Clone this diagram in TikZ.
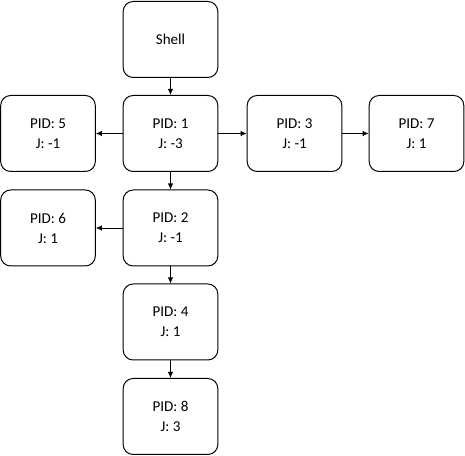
\documentclass[tikz,border=0pt]{standalone}
\usepackage{fontspec}
\setmainfont{Carlito}
\usetikzlibrary{arrows.meta}
\begin{document}
\begin{tikzpicture}[
    x=0.75pt, y=-0.75pt,
    proc/.style={draw, rounded corners=7.5pt, line width=0.75pt,
      minimum width=71pt, minimum height=57pt, align=center,
      font=\fontsize{11.3}{15}\selectfont, inner sep=0pt},
    link/.style={-{Latex[length=4.5pt,width=4pt]}, line width=0.6pt}
  ]
    \useasboundingbox (0,0) rectangle (465,456);
    \node[proc] (shell) at (170.5,39.5) {Shell};
    \node[proc] (p1) at (170.5,133.5) {PID: 1\\J: -3};
    \node[proc] (p5) at (48,133.5) {PID: 5\\J: -1};
    \node[proc] (p3) at (294.5,133.5) {PID: 3\\J: -1};
    \node[proc] (p7) at (416.5,133.5) {PID: 7\\J: 1};
    \node[proc] (p2) at (170.5,228) {PID: 2\\J: -1};
    \node[proc] (p6) at (48,228) {PID: 6\\J: 1};
    \node[proc] (p4) at (170.5,322) {PID: 4\\J: 1};
    \node[proc] (p8) at (170.5,416.5) {PID: 8\\J: 3};
    \draw[link] (shell) -- (p1);
    \draw[link] (p1) -- (p5);
    \draw[link] (p1) -- (p3);
    \draw[link] (p3) -- (p7);
    \draw[link] (p1) -- (p2);
    \draw[link] (p2) -- (p6);
    \draw[link] (p2) -- (p4);
    \draw[link] (p4) -- (p8);
  \end{tikzpicture}
\end{document}
